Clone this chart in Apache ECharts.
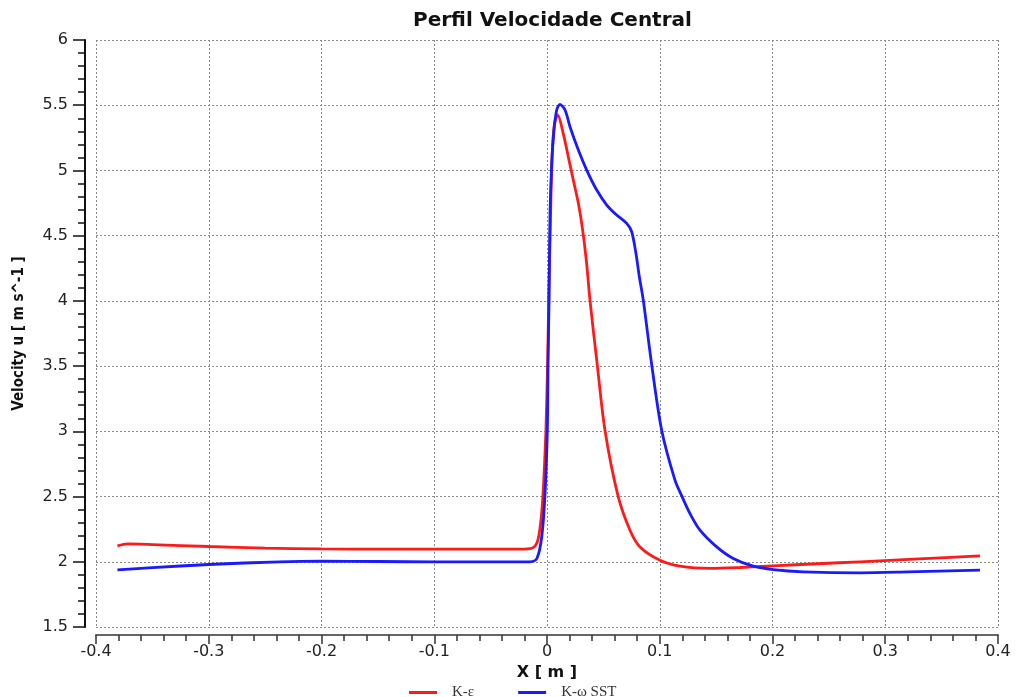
<!DOCTYPE html>
<html>
<head>
<meta charset="utf-8">
<script src="https://cdn.jsdelivr.net/npm/echarts@6/dist/echarts.min.js"></script>
<style>html,body{margin:0;padding:0;background:#fff}#c{width:1018px;height:697px}</style>
</head>
<body>
<div id="c"></div>
<script>
// K-epsilon
const keX = [-0.381,-0.372,-0.35,-0.3,-0.25,-0.2,-0.15,-0.1,-0.05,-0.02,-0.012,-0.008,-0.005,-0.003,-0.001,0.0005,0.0015,0.003,0.0045,0.0065,0.0095,0.0145,0.019,0.0235,0.028,0.0315,0.035,0.0381,0.0446,0.0514,0.063,0.0736,0.0825,0.1002,0.118,0.1446,0.1712,0.2007,0.24,0.2776,0.33,0.384];
const keY = [2.122,2.137,2.132,2.117,2.105,2.099,2.097,2.097,2.097,2.097,2.11,2.17,2.35,2.6,3.0,3.5,4.0,4.6,5.1,5.35,5.425,5.28,5.10,4.92,4.74,4.55,4.3,4.006,3.508,3.009,2.505,2.242,2.114,2.012,1.966,1.949,1.956,1.969,1.985,2.0,2.022,2.045];
// K-omega SST
const sstX = [-0.381,-0.35,-0.3,-0.237,-0.2,-0.15,-0.1,-0.05,-0.02,-0.015,-0.009,-0.0047,-0.0018,0.0003,0.0009,0.0018,0.0027,0.0042,0.0062,0.0086,0.0115,0.016,0.0204,0.0278,0.0352,0.0441,0.053,0.0618,0.0707,0.0751,0.0789,0.0819,0.0854,0.0929,0.1017,0.1135,0.1195,0.1268,0.1357,0.1505,0.1652,0.183,0.2007,0.2273,0.2776,0.32,0.384];
const sstY = [1.938,1.955,1.979,2.0,2.005,2.002,1.999,1.999,1.999,2.0,2.025,2.19,2.51,3.01,3.51,4.0,4.671,5.054,5.31,5.463,5.507,5.463,5.335,5.156,5.003,4.85,4.735,4.658,4.594,4.53,4.364,4.185,4.006,3.508,3.009,2.626,2.505,2.37,2.242,2.114,2.025,1.966,1.94,1.923,1.915,1.922,1.936];
const seriesNames = ['K-ε', 'K-ω SST'];
const xTicks = {min: -0.4, max: 0.4, interval: 0.1};
const yTicks = {min: 1.5, max: 6, interval: 0.5};

const zip = (xs, ys) => xs.map((x, i) => [x, ys[i]]);

const chart = echarts.init(document.getElementById('c'));
chart.setOption({
  animation: false,
  backgroundColor: '#fff',
  title: {
    text: 'Perfil Velocidade Central',
    left: 408, top: 6,
    textStyle: {fontFamily: 'DejaVu Sans', fontWeight: 'bold', fontSize: 20, color: '#111'}
  },
  legend: {
    left: 404, top: 680,
    itemGap: 44,
    itemWidth: 28, itemHeight: 3,
    icon: 'rect',
    textStyle: {fontFamily: 'Liberation Serif', fontSize: 15, color: '#333', padding: [0,0,0,10]},
    data: seriesNames
  },
  grid: {left: 96, right: 20, top: 40, bottom: 70, containLabel: false},
  xAxis: {
    type: 'value',
    min: xTicks.min, max: xTicks.max, interval: xTicks.interval,
    offset: 8,
    name: 'X [ m ]',
    nameLocation: 'middle', nameGap: 23,
    nameTextStyle: {fontFamily: 'DejaVu Sans', fontWeight: 'bold', fontSize: 16, color: '#111'},
    axisLine: {show: true, onZero: false, lineStyle: {color: '#666', width: 2}},
    axisTick: {show: true, length: 9, lineStyle: {color: '#333', width: 1.5}},
    minorTick: {show: true, splitNumber: 5, length: 6, lineStyle: {color: '#333', width: 1.5}},
    axisLabel: {margin: 9, fontFamily: 'DejaVu Sans', fontSize: 16, color: '#222'},
    splitLine: {show: true, lineStyle: {color: '#8a8a8a', type: [2, 2], width: 1}}
  },
  yAxis: {
    type: 'value',
    min: yTicks.min, max: yTicks.max, interval: yTicks.interval,
    offset: 11,
    name: 'Velocity u [ m s^-1 ]',
    nameLocation: 'middle', nameGap: 58,
    nameTextStyle: {fontFamily: 'DejaVu Sans Condensed', fontWeight: 'bold', fontSize: 15, color: '#111'},
    axisLine: {show: true, onZero: false, lineStyle: {color: '#111', width: 2}},
    axisTick: {show: true, length: 12, lineStyle: {color: '#111', width: 1.5}},
    minorTick: {show: true, splitNumber: 5, length: 7, lineStyle: {color: '#111', width: 1.5}},
    axisLabel: {margin: 17, fontFamily: 'DejaVu Sans', fontSize: 16, color: '#222'},
    splitLine: {show: true, lineStyle: {color: '#8a8a8a', type: [2, 2], width: 1}}
  },
  series: [
    {
      name: seriesNames[0], type: 'line', data: zip(keX, keY),
      showSymbol: false, smooth: 0.3,
      lineStyle: {color: '#ff1a1a', width: 2.8}, itemStyle: {color: '#ff1a1a'}
    },
    {
      name: seriesNames[1], type: 'line', data: zip(sstX, sstY),
      showSymbol: false, smooth: 0.3,
      lineStyle: {color: '#1a1aff', width: 2.8}, itemStyle: {color: '#1a1aff'}
    }
  ]
});
</script>
</body>
</html>
